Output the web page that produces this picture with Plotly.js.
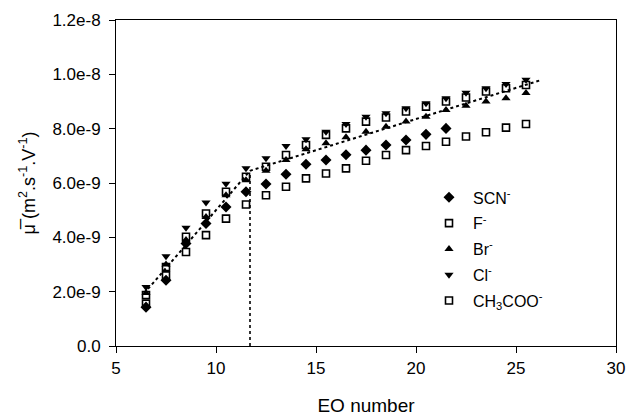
<!DOCTYPE html>
<html>
<head>
<meta charset="utf-8">
<script src="https://cdn.plot.ly/plotly-3.0.1.min.js"></script>
<style>html,body{margin:0;padding:0;background:#fff;}#chart{width:626px;height:416px;}</style>
</head>
<body>
<div id="chart"></div>
<script>
// EO number
const eo = [6.5,7.5,8.5,9.5,10.5,11.5,12.5,13.5,14.5,15.5,16.5,17.5,18.5,19.5,20.5,21.5,22.5,23.5,24.5,25.5];
const eoSCN = [6.5,7.5,8.5,9.5,10.5,11.5,12.5,13.5,14.5,15.5,16.5,17.5,18.5,19.5,20.5,21.5];
// mobilities (m2 s-1 V-1)
const scn = [1.43e-9,2.42e-9,3.77e-9,4.51e-9,5.12e-9,5.68e-9,5.96e-9,6.32e-9,6.69e-9,6.85e-9,7.04e-9,7.21e-9,7.40e-9,7.58e-9,7.79e-9,8.01e-9];
const fl = [1.88e-9,2.91e-9,4.02e-9,4.88e-9,5.68e-9,6.23e-9,6.60e-9,7.03e-9,7.40e-9,7.77e-9,8.01e-9,8.26e-9,8.41e-9,8.63e-9,8.81e-9,9.00e-9,9.15e-9,9.37e-9,9.49e-9,9.61e-9];
const br = [1.95e-9,3.00e-9,3.90e-9,4.75e-9,5.55e-9,6.10e-9,6.45e-9,6.85e-9,7.24e-9,7.46e-9,7.68e-9,7.89e-9,8.07e-9,8.26e-9,8.44e-9,8.69e-9,8.84e-9,9.00e-9,9.12e-9,9.31e-9];
const cl = [2.17e-9,3.30e-9,4.35e-9,5.28e-9,5.97e-9,6.54e-9,6.91e-9,7.36e-9,7.61e-9,7.89e-9,8.17e-9,8.44e-9,8.57e-9,8.75e-9,8.94e-9,9.12e-9,9.32e-9,9.49e-9,9.64e-9,9.80e-9];
const ac = [1.56e-9,2.60e-9,3.46e-9,4.08e-9,4.69e-9,5.21e-9,5.55e-9,5.86e-9,6.17e-9,6.35e-9,6.54e-9,6.82e-9,7.03e-9,7.21e-9,7.36e-9,7.52e-9,7.71e-9,7.87e-9,8.04e-9,8.17e-9];
// fitted guide line and break
const fitX = [6.6, 11.7, 26.3];
const fitY = [2.1e-9, 6.45e-9, 9.8e-9];
const breakX = [11.7, 11.7];
const breakY = [0, 6.35e-9];
// ticks
const xTickVals = [5, 10, 15, 20, 25, 30];
const yTickVals = [0, 2e-9, 4e-9, 6e-9, 8e-9, 1e-8, 1.2e-8];
const yTickText = ["0.0","2.0e-9","4.0e-9","6.0e-9","8.0e-9","1.0e-8","1.2e-8"];
const seriesNames = ["SCN<sup>-</sup>","F<sup>-</sup>","Br<sup>-</sup>","Cl<sup>-</sup>","CH<sub>3</sub>COO<sup>-</sup>"];

const font = "Liberation Sans, Arial, sans-serif";
const traces = [
  {x: fitX, y: fitY, mode: 'lines', line: {color: '#000', width: 2, dash: 'dot'}, showlegend: false, hoverinfo: 'skip'},
  {x: breakX, y: breakY, mode: 'lines', line: {color: '#000', width: 1.6, dash: 'dot'}, showlegend: false, hoverinfo: 'skip'},
  {x: eoSCN, y: scn, name: seriesNames[0], mode: 'markers', legendgroup: 'a', marker: {symbol: 'diamond', size: 8.5, color: '#000'}},
  {x: eo, y: fl, name: seriesNames[1], mode: 'markers', legendgroup: 'b', marker: {symbol: 'square-open', size: 7, color: '#000', line: {width: 1.6}}},
  {x: eo, y: br, name: seriesNames[2], mode: 'markers', legendgroup: 'c', marker: {symbol: 'triangle-up', size: 8, color: '#000'}},
  {x: eo, y: cl, name: seriesNames[3], mode: 'markers', legendgroup: 'd', marker: {symbol: 'triangle-down', size: 8, color: '#000'}},
  {x: eo, y: ac, name: seriesNames[4], mode: 'markers', legendgroup: 'e', marker: {symbol: 'square-open', size: 7, color: '#000', line: {width: 1.6}}}
];
const layout = {
  width: 626, height: 416,
  margin: {l: 116, r: 10, t: 20, b: 70, pad: 0},
  paper_bgcolor: '#fff', plot_bgcolor: '#fff',
  font: {family: font, size: 16, color: '#000'},
  showlegend: true,
  legend: {x: 0.618, y: 0.508, xanchor: 'left', yanchor: 'top', bgcolor: 'rgba(0,0,0,0)', font: {size: 16, family: font},
           traceorder: 'grouped', tracegroupgap: 2, itemwidth: 38},
  xaxis: {
    range: [5, 30], tickvals: xTickVals, ticks: 'outside', ticklen: 6, tickwidth: 1, tickcolor: '#000',
    showline: true, linecolor: '#000', linewidth: 1, mirror: true, showgrid: false, zeroline: false,
    tickfont: {size: 17, family: font}, ticklabelstandoff: 1,
    title: {text: 'EO number', font: {size: 19, family: font}, standoff: 22}
  },
  yaxis: {
    range: [0, 1.2e-8], tickvals: yTickVals, ticktext: yTickText, ticks: 'outside', ticklen: 6, tickwidth: 1, tickcolor: '#000',
    showline: true, linecolor: '#000', linewidth: 1, mirror: true, showgrid: false, zeroline: false,
    tickfont: {size: 17, family: font}, ticklabelstandoff: 5,
    title: {text: 'μ\u0305 (m<sup>2</sup>.s<sup>-1</sup>.V<sup>-1</sup>)', font: {size: 18, family: font}, standoff: 12}
  }
};
Plotly.newPlot('chart', traces, layout, {staticPlot: true, displayModeBar: false});
</script>
</body>
</html>
